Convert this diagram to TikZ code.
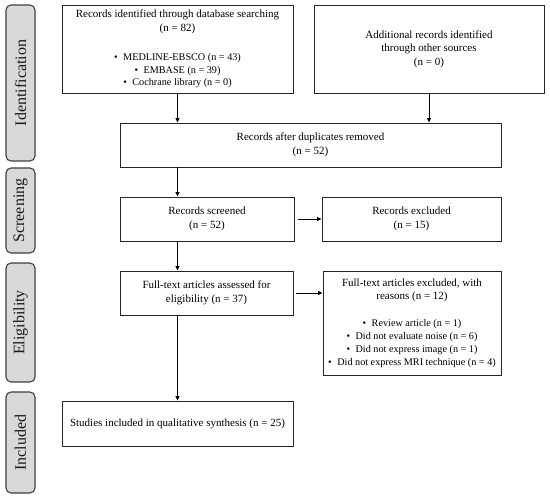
\documentclass[tikz,border=0pt]{standalone}
\usepackage{fontspec}
\setmainfont{Liberation Serif}
\usetikzlibrary{arrows.meta}
\definecolor{sidefill}{HTML}{D9D9D9}
\definecolor{sideline}{HTML}{3F3F3F}
\definecolor{boxline}{HTML}{262626}
\tikzset{
  flowbox/.style={draw=boxline, line width=0.9pt, rectangle, inner sep=0pt, align=center,
    font=\fontsize{11}{13.5}\selectfont},
  sidebox/.style={draw=sideline, fill=sidefill, line width=1.1pt, rounded corners=5pt,
    rotate=90, inner sep=0pt, minimum height=29pt, text=black!90,
    font=\fontsize{16}{18}\selectfont},
  arr/.style={line width=1pt, -{Triangle[length=4.5pt,width=4pt]}}
}
\newcommand{\blt}{\fontsize{10.2}{12}\selectfont\textbullet\hspace{5.5pt}}
\begin{document}
\begin{tikzpicture}[x=1pt,y=-1pt]
\useasboundingbox (0,0) rectangle (550,498);
% side labels
\node[sidebox, minimum width=156pt] (sid) at (20.5,83) {Identification};
\node[sidebox, minimum width=85pt] (ssc) at (20.5,210.5) {Screening};
\node[sidebox, minimum width=119pt] (sel) at (20.5,322.5) {Eligibility};
\node[sidebox, minimum width=101pt] (sin) at (20.5,442.5) {Included};
% boxes
\node[flowbox, minimum width=231pt, minimum height=88pt] (b1) at (177.5,49)
  {Records identified through database searching\\(n = 82)\\[16pt]
   \blt MEDLINE-EBSCO (n = 43)\\[-1pt] \blt EMBASE (n = 39)\\[-1pt] \blt Cochrane library (n = 0)};
\node[flowbox, minimum width=230pt, minimum height=88pt] (b2) at (429,49)
  {Additional records identified\\through other sources\\(n = 0)};
\node[flowbox, minimum width=381pt, minimum height=44pt] (b3) at (310.5,145)
  {Records after duplicates removed\\(n = 52)};
\node[flowbox, minimum width=174pt, minimum height=44pt] (b4) at (207,219)
  {Records screened\\(n = 52)};
\node[flowbox, minimum width=179pt, minimum height=44pt] (b5) at (411.5,219)
  {Records excluded\\(n = 15)};
\node[flowbox, minimum width=173pt, minimum height=44pt] (b6) at (206.5,293)
  {Full-text articles assessed for\\eligibility (n = 37)};
\node[flowbox, minimum width=178pt, minimum height=104pt] (b7) at (412,323)
  {Full-text articles excluded, with\\reasons (n = 12)\\[13pt]
   \blt Review article (n = 1)\\[-0.6pt] \blt Did not evaluate noise (n = 6)\\[-0.6pt] \blt Did not express image (n = 1)\\[-0.6pt] \blt Did not express MRI technique (n = 4)};
\node[flowbox, minimum width=231pt, minimum height=45pt] (b8) at (177.5,423.5)
  {Studies included in qualitative synthesis (n = 25)};
% connectors
\draw[arr] (b1.south) -- (b1.south |- b3.north);
\draw[arr] (b2.south) -- (b2.south |- b3.north);
\draw[arr] (b3.south -| b1.south) -- (b4.north -| b1.south);
\draw[arr] (b4.south -| b1.south) -- (b6.north -| b1.south);
\draw[arr] (b6.south -| b8.north) -- (b8.north);
\draw[arr, shorten <=4pt] (b4.east) -- (b4.east -| b5.west);
\draw[arr, shorten <=3pt] (b6.east) -- (b6.east -| b7.west);
\end{tikzpicture}
\end{document}
